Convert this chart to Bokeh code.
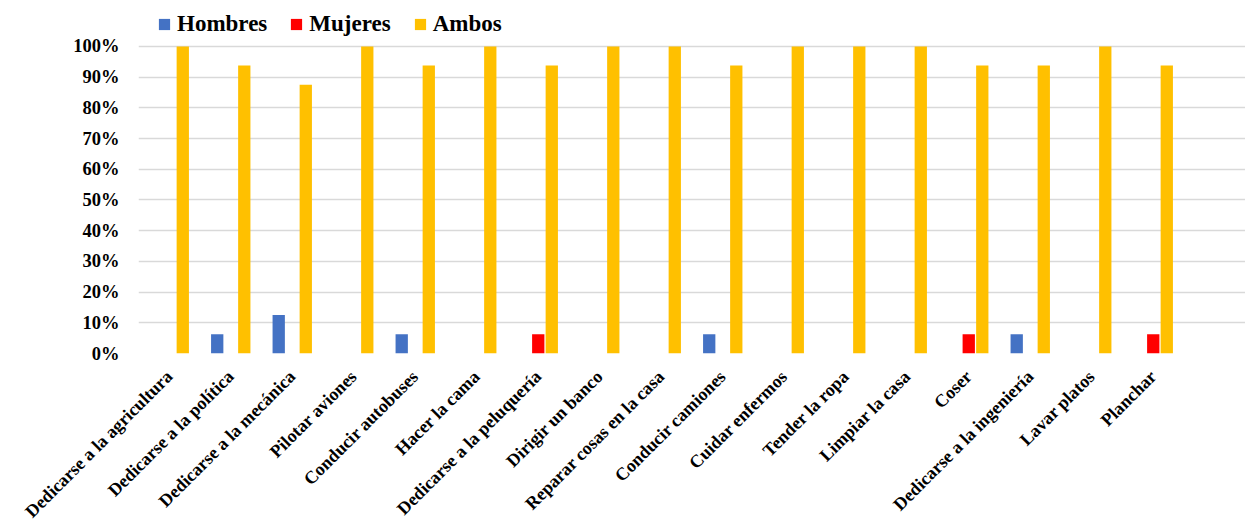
import math
from bokeh.plotting import figure
from bokeh.models import ColumnDataSource, FixedTicker, Legend, LegendItem, Range1d
from bokeh.embed import file_html
from bokeh.resources import INLINE

categories = ["Dedicarse a la agricultura", "Dedicarse a la política", "Dedicarse a la mecánica",
              "Pilotar aviones", "Conducir autobuses", "Hacer la cama", "Dedicarse a la peluquería",
              "Dirigir un banco", "Reparar cosas en la casa", "Conducir camiones", "Cuidar enfermos",
              "Tender la ropa", "Limpiar la casa", "Coser", "Dedicarse a la ingeniería",
              "Lavar platos", "Planchar"]
hombres = [0, 6.25, 12.5, 0, 6.25, 0, 0, 0, 0, 6.25, 0, 0, 0, 0, 6.25, 0, 0]
mujeres = [0, 0, 0, 0, 0, 0, 6.25, 0, 0, 0, 0, 0, 0, 6.25, 0, 0, 6.25]
ambos = [100, 93.75, 87.5, 100, 93.75, 100, 93.75, 100, 100, 93.75, 100, 100, 100, 93.75, 93.75, 100, 93.75]
series_names = ["Hombres", "Mujeres", "Ambos"]
series_colors = ["#4472C4", "#FF0000", "#FFC000"]
y_ticks = [0, 10, 20, 30, 40, 50, 60, 70, 80, 90, 100]
y_labels = [f"{t}%" for t in y_ticks]

FONT = "Liberation Serif"
n_slots = len(categories) + 1
centers = [i + 0.5 for i in range(len(categories))]

p = figure(width=1245, height=531, output_backend="svg", toolbar_location=None,
           x_range=Range1d(0, n_slots), y_range=Range1d(0, 114.94),
           min_border_left=138, min_border_right=0, min_border_top=0, min_border_bottom=177)
p.outline_line_color = None
p.background_fill_color = "white"

offsets = [-0.22, 0.0, 0.22]
renderers = []
for vals, off, col in zip([hombres, mujeres, ambos], offsets, series_colors):
    src = ColumnDataSource(dict(x=[c + off for c in centers], top=vals))
    r = p.vbar(x="x", top="top", bottom=0, width=0.2, source=src, fill_color=col, line_color=None)
    renderers.append(r)

p.yaxis.ticker = FixedTicker(ticks=y_ticks)
p.yaxis.major_label_overrides = {t: l for t, l in zip(y_ticks, y_labels)}
p.yaxis.axis_line_color = None
p.yaxis.major_tick_line_color = None
p.yaxis.minor_tick_line_color = None
p.yaxis.major_label_text_font = FONT
p.yaxis.major_label_text_font_style = "bold"
p.yaxis.major_label_text_font_size = "18.5px"
p.yaxis.major_label_text_color = "#000000"
p.yaxis.major_label_standoff = 13

p.xaxis.ticker = FixedTicker(ticks=centers)
p.xaxis.major_label_overrides = {c: name for c, name in zip(centers, categories)}
p.xaxis.axis_line_color = None
p.xaxis.major_tick_line_color = None
p.xaxis.minor_tick_line_color = None
p.xaxis.major_label_orientation = math.pi / 4
p.xaxis.major_label_text_font = FONT
p.xaxis.major_label_text_font_style = "bold"
p.xaxis.major_label_text_font_size = "18px"
p.xaxis.major_label_text_color = "#000000"
p.xaxis.major_label_standoff = 14

p.xgrid.grid_line_color = None
p.ygrid.grid_line_color = "#D9D9D9"
p.ygrid.grid_line_width = 1.5

legend = Legend(items=[LegendItem(label=n, renderers=[r]) for n, r in zip(series_names, renderers)],
                orientation="horizontal", location=(19, 316))
legend.padding = 0
legend.margin = 0
legend.spacing = 22
legend.glyph_width = 14
legend.glyph_height = 14
legend.label_standoff = 6
legend.label_text_font = FONT
legend.label_text_font_style = "bold"
legend.label_text_font_size = "23px"
legend.label_text_color = "#000000"
legend.background_fill_alpha = 0
legend.border_line_color = None
p.add_layout(legend)

open("out.html", "w").write(file_html(p, INLINE))
